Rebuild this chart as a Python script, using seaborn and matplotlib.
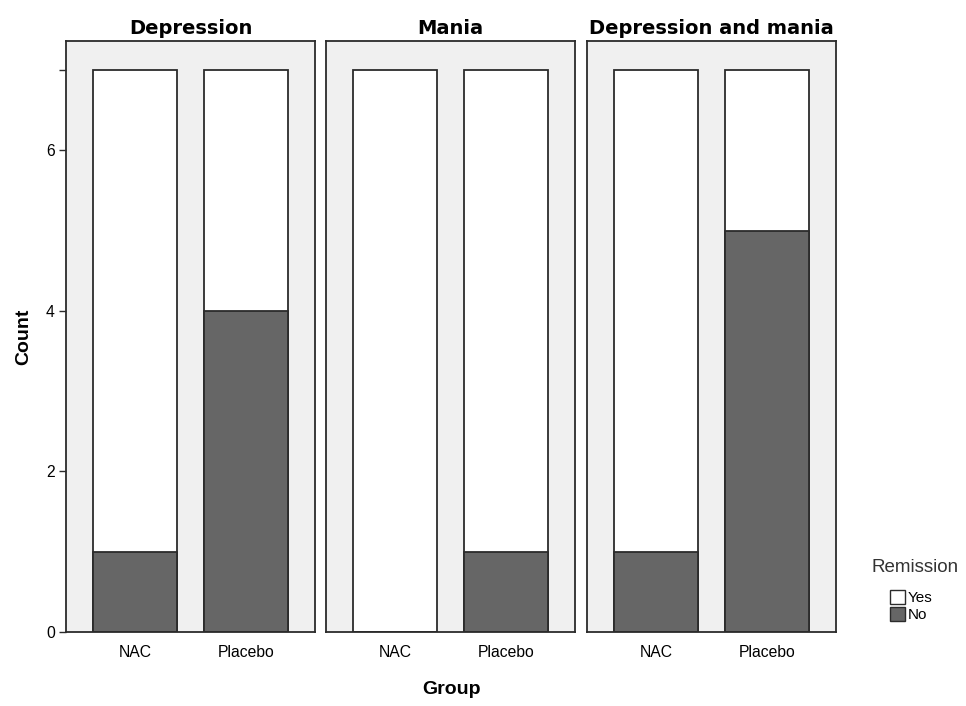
import matplotlib
matplotlib.use("Agg")
import matplotlib.pyplot as plt
from matplotlib.patches import Patch
import seaborn as sns
import pandas as pd

panels = ["Depression", "Mania", "Depression and mania"]
groups = ["NAC", "Placebo"]
# counts per panel, per group
no_counts = [[1, 4], [0, 1], [1, 5]]
yes_counts = [[6, 3], [7, 6], [6, 2]]

DARK = "#666666"
EDGE = "#2b2b2b"
BG = "#f0f0f0"

sns.set_theme(style="white", rc={"text.color": "black", "axes.labelcolor": "black",
                                 "xtick.color": "black", "ytick.color": "black"})
plt.rcParams["font.family"] = ["Liberation Sans", "DejaVu Sans"]

fig = plt.figure(figsize=(9.66, 7.06), dpi=100)
lefts = [0.0683, 0.3375, 0.6077]
axes = []
for i, name in enumerate(panels):
    ax = fig.add_axes([lefts[i], 0.1048, 0.2578, 0.837])
    df = pd.DataFrame({
        "Group": groups,
        "No": no_counts[i],
        "Total": [n + y for n, y in zip(no_counts[i], yes_counts[i])],
    })
    sns.barplot(data=df, x="Group", y="Total", color="white", saturation=1,
                width=0.76, edgecolor=EDGE, linewidth=1.3, ax=ax)
    sns.barplot(data=df, x="Group", y="No", color=DARK, saturation=1,
                width=0.76, edgecolor=EDGE, linewidth=1.3, ax=ax)
    ax.set_facecolor(BG)
    ax.set_xlim(-0.62, 1.62)
    ax.set_ylim(0, 7.36)
    for s in ax.spines.values():
        s.set_color(EDGE)
        s.set_linewidth(1.3)
    ax.set_title(name, fontsize=14, fontweight="bold", family="DejaVu Sans", pad=5)
    ax.set_xlabel("")
    ax.set_ylabel("")
    ax.tick_params(axis="x", length=5, width=1, color=EDGE, labelsize=11.3, pad=4)
    if i == 0:
        ax.set_yticks([0, 2, 4, 6])
        ax.set_yticks([7], minor=True)
        ax.tick_params(axis="y", which="both", length=5, width=1, color=EDGE,
                       labelsize=11.3, left=True, pad=3)
        ax.set_ylabel("Count", fontsize=14, fontweight="bold", labelpad=10)
    else:
        ax.set_yticks([])
    axes.append(ax)

fig.text(0.467, 0.023, "Group", ha="center", va="center", fontsize=14, fontweight="bold")

# legend title placed separately to get the wider gap above the entries
fig.text(0.947, 1 - 567 / 706, "Remission", ha="center", va="center",
         fontsize=13.5, color="#333333")
handles = [Patch(facecolor="white", edgecolor=EDGE, label="Yes"),
           Patch(facecolor=DARK, edgecolor=EDGE, label="No")]
fig.legend(handles=handles, loc="upper left",
           bbox_to_anchor=(0.921, 1 - 590 / 706), frameon=False, fontsize=11,
           handlelength=1.0, handleheight=1.0, borderpad=0.0, borderaxespad=0.0,
           handletextpad=0.15, labelspacing=0.15)

fig.savefig("out.png", dpi=100)
